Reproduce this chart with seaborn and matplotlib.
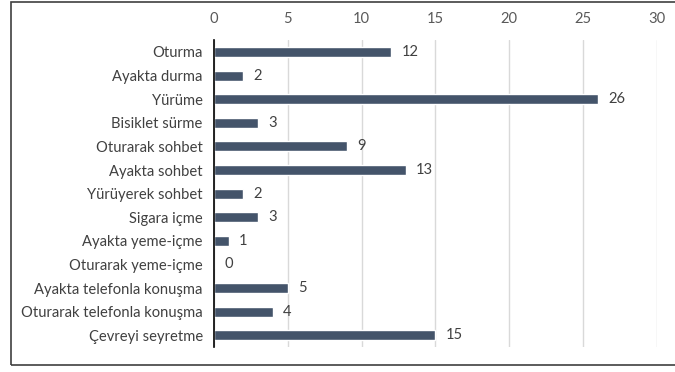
import matplotlib
matplotlib.use("Agg")
import matplotlib.pyplot as plt
import seaborn as sns
import pandas as pd
from matplotlib.patches import Rectangle

activities = [
    "Oturma", "Ayakta durma", "Yürüme", "Bisiklet sürme", "Oturarak sohbet",
    "Ayakta sohbet", "Yürüyerek sohbet", "Sigara içme", "Ayakta yeme-içme",
    "Oturarak yeme-içme", "Ayakta telefonla konuşma",
    "Oturarak telefonla konuşma", "Çevreyi seyretme",
]
counts = [12, 2, 26, 3, 9, 13, 2, 3, 1, 0, 5, 4, 15]
x_ticks = [0, 5, 10, 15, 20, 25, 30]

df = pd.DataFrame({"activity": activities, "count": counts})

sns.set_style("white")
plt.rcParams["font.family"] = ["Lato", "DejaVu Sans"]

fig = plt.figure(figsize=(6.75, 3.72), dpi=100)
ax = fig.add_axes([0.317, 0.067, 0.656, 0.825])

sns.barplot(data=df, y="activity", x="count", orient="h", color="#44546A",
            width=0.42, saturation=1, ax=ax)

ax.set_xlim(0, 30)
ax.set_xticks(x_ticks)
ax.xaxis.tick_top()
ax.tick_params(axis="x", length=0, labelsize=10.6, labelcolor="#595959", pad=10)
ax.tick_params(axis="y", length=0, labelsize=10.6, labelcolor="#404040", pad=8)
ax.set_xlabel("")
ax.set_ylabel("")
ax.grid(axis="x", color="#D9D9D9", linewidth=1)
ax.set_axisbelow(True)
for s in ["top", "right", "bottom"]:
    ax.spines[s].set_visible(False)
ax.spines["left"].set_color("#000000")
ax.spines["left"].set_linewidth(1.2)

for i, v in enumerate(counts):
    ax.text(v + 0.7, i, str(v), va="center", ha="left", fontsize=10.6, color="#404040")

fig.patches.append(Rectangle((0.016, 0.019), 1.0, 0.976, transform=fig.transFigure,
                             fill=False, edgecolor="#404040", linewidth=1.2))

fig.savefig("out.png", dpi=100)
